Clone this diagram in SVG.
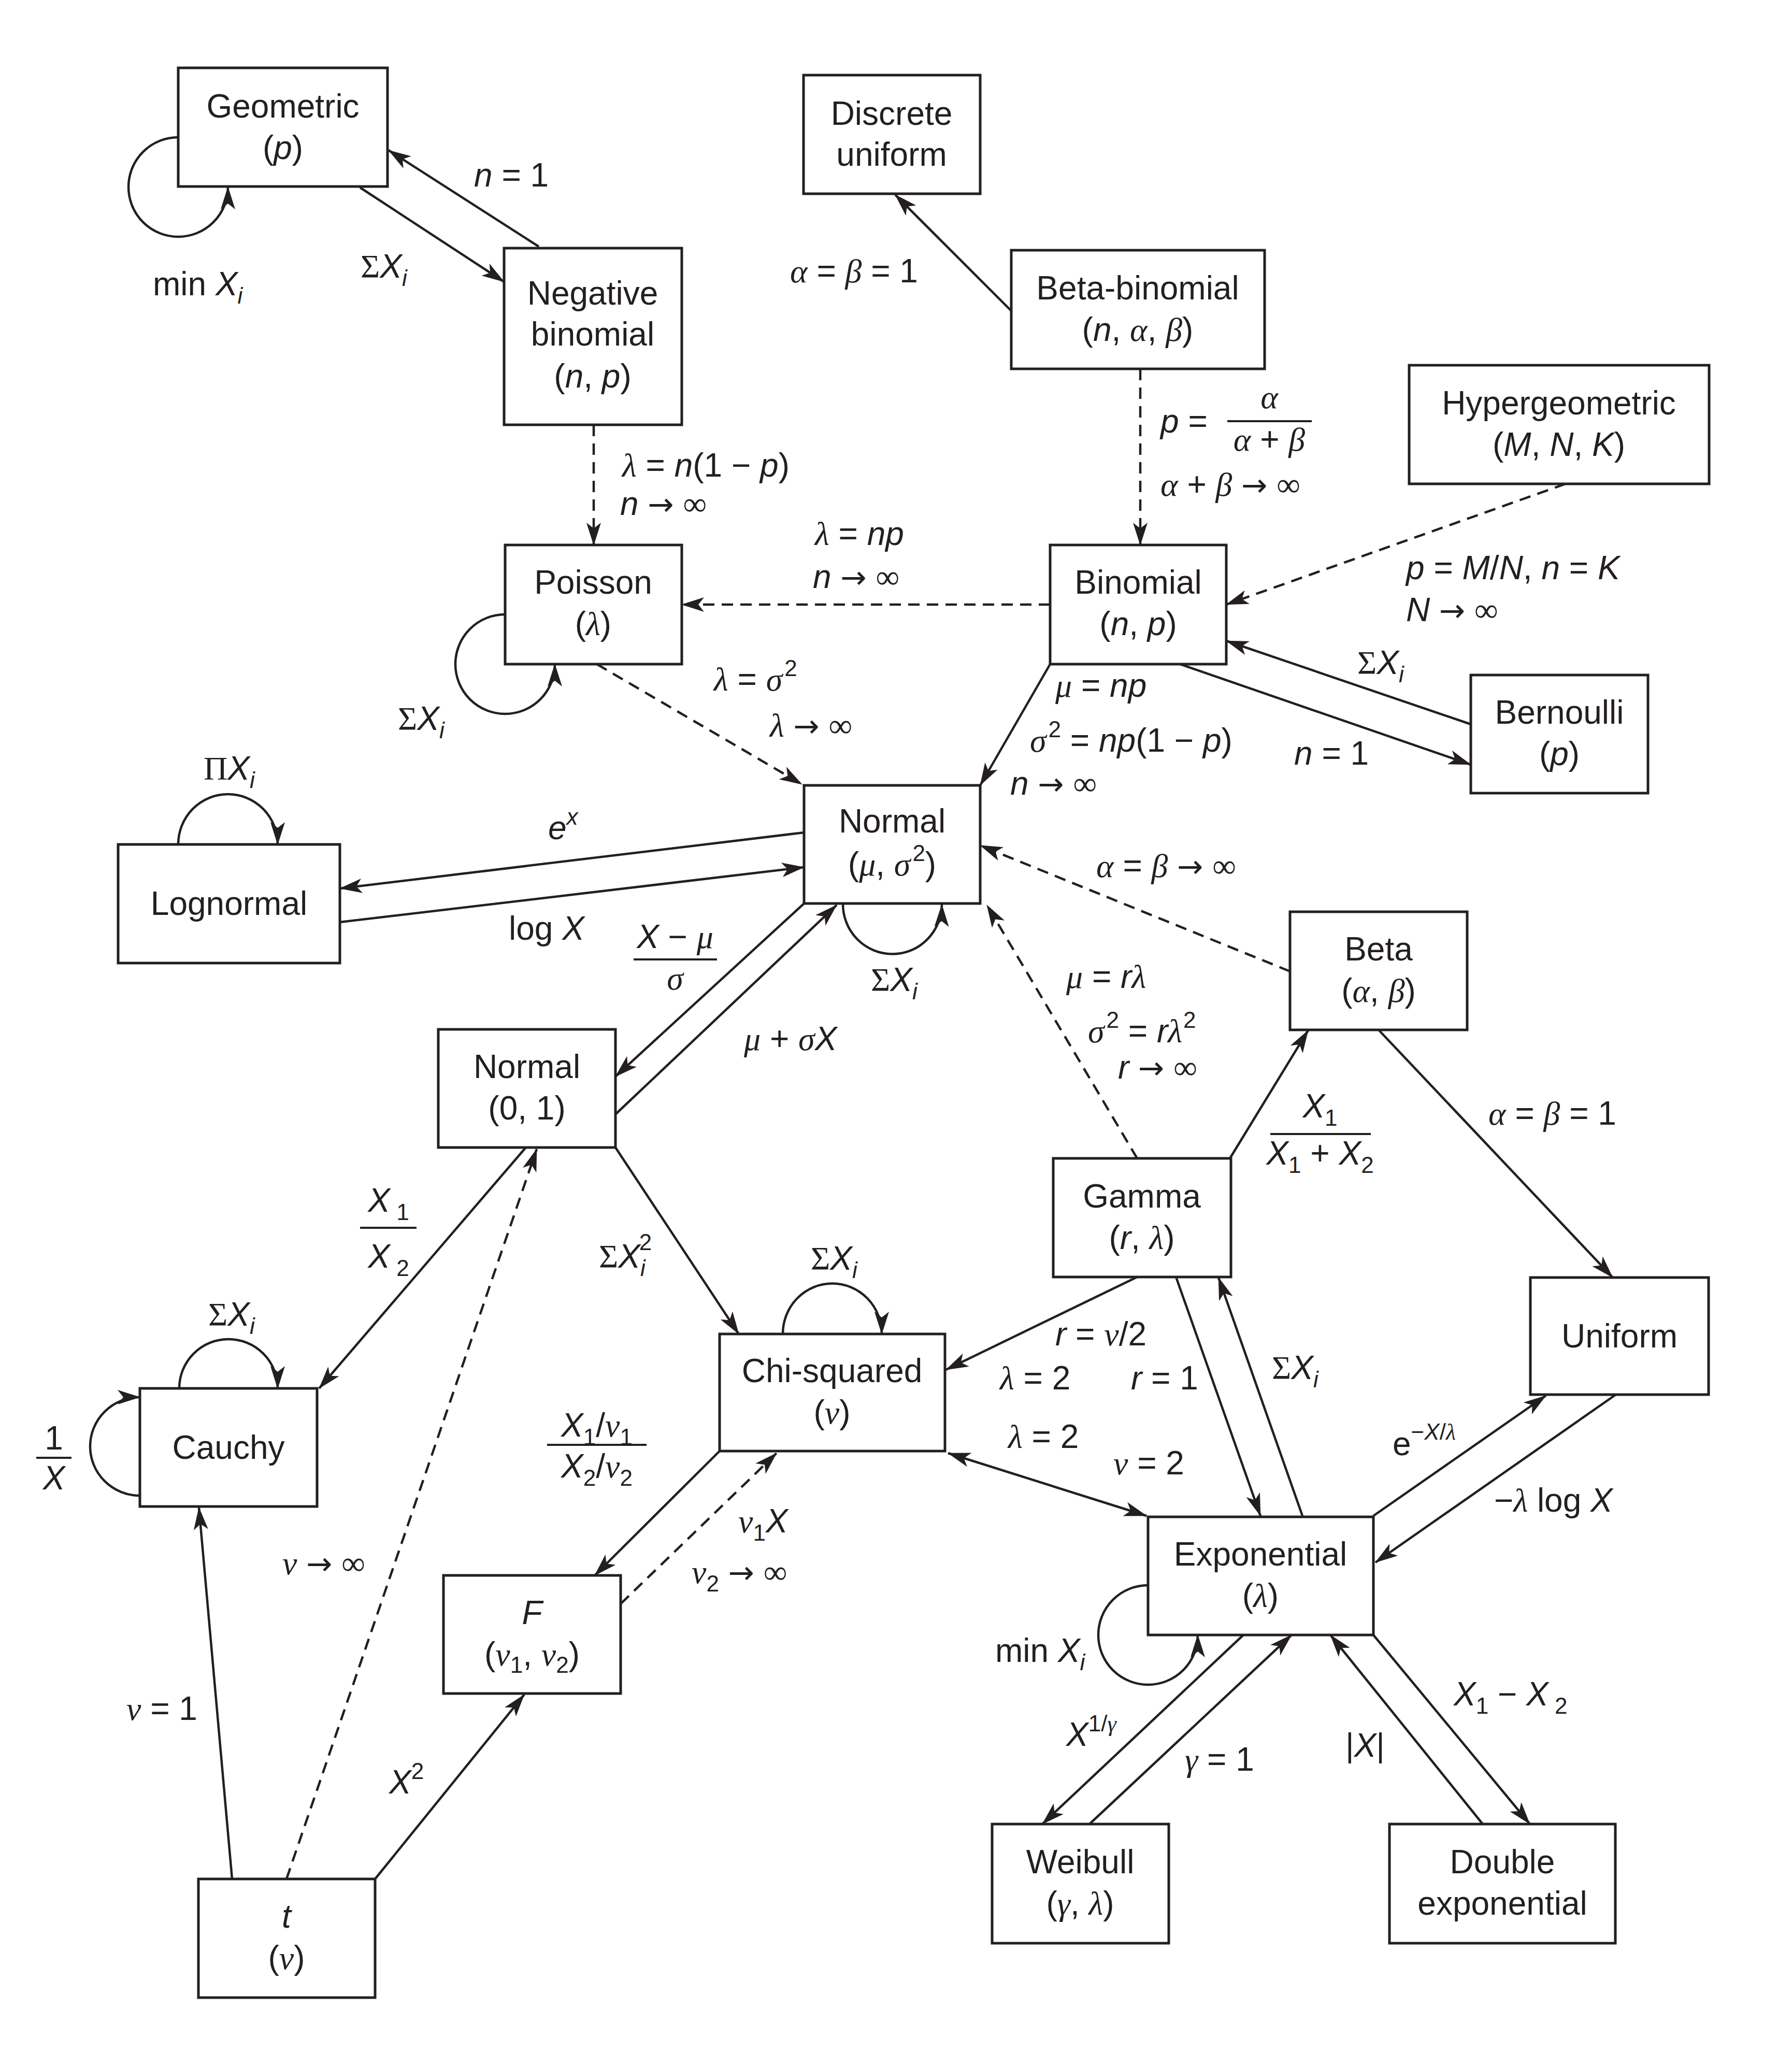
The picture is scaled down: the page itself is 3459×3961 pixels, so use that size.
<svg xmlns="http://www.w3.org/2000/svg" width="3459" height="3961" viewBox="0 0 3459 3961">
<defs>
<style>
text{font-family:"Liberation Sans",Arial,sans-serif;font-size:64px;fill:#231f20}
.m{text-anchor:middle}
.i{font-style:italic}
.g{font-family:"Liberation Serif","Times New Roman",serif;font-style:italic}
.s{font-family:"Liberation Serif","Times New Roman",serif}
.ar{font-family:"DejaVu Sans",sans-serif;font-size:60px}
.sb{font-size:44px}
.box{fill:#fff;stroke:#231f20;stroke-width:5}
.c{fill:none;stroke:#231f20;stroke-width:4.5}
.a{marker-end:url(#ah)}
.d{stroke-dasharray:22 14}
.fr{stroke:#231f20;stroke-width:4}
</style>
<marker id="ah" markerUnits="userSpaceOnUse" viewBox="0 0 44 28" markerWidth="44" markerHeight="28" refX="43" refY="14" orient="auto-start-reverse">
<path d="M0,0 L44,14 L0,28 L11,14 Z" fill="#231f20"/>
</marker>
</defs>
<rect width="3459" height="3961" fill="#fff"/>

<g id="connectors">
<line class="c a" x1="1040" y1="476" x2="750" y2="290"/>
<line class="c a" x1="695" y1="362" x2="973" y2="544"/>
<path class="c a" d="M344,265 A96,96 0 1 0 440,361"/>
<path class="c a" d="M975,1186 A96,96 0 1 0 1071,1282"/>
<path class="c a" d="M2216,3060 A96,96 0 1 0 2312,3156"/>
<path class="c a" d="M1627,1744 A95,96 0 0 0 1818,1746"/>
<path class="c a" d="M344,1630 A96,97 0 0 1 536,1630"/>
<path class="c a" d="M346,2680 A95,95 0 0 1 536,2680"/>
<path class="c a" d="M270,2887 A96,95 0 0 1 270,2697"/>
<path class="c a" d="M1511,2575 A95,97 0 0 1 1702,2575"/>
<line class="c a d" x1="1146" y1="820" x2="1146" y2="1052"/>
<line class="c a" x1="1952" y1="600" x2="1728" y2="376"/>
<line class="c a d" x1="2201" y1="712" x2="2201" y2="1052"/>
<line class="c a d" x1="3022" y1="934" x2="2367" y2="1167"/>
<line class="c a d" x1="2027" y1="1167" x2="1316" y2="1167"/>
<line class="c a d" x1="1152" y1="1282" x2="1548" y2="1514"/>
<line class="c a" x1="2027" y1="1282" x2="1892" y2="1516"/>
<line class="c a" x1="2278" y1="1282" x2="2839" y2="1476"/>
<line class="c a" x1="2839" y1="1398" x2="2367" y2="1237"/>
<line class="c a" x1="1552" y1="1607" x2="656" y2="1715"/>
<line class="c a" x1="656" y1="1780" x2="1552" y2="1674"/>
<line class="c a d" x1="2490" y1="1875" x2="1892" y2="1632"/>
<line class="c a d" x1="2195" y1="2236" x2="1905" y2="1747"/>
<line class="c a" x1="1552" y1="1744" x2="1188" y2="2078"/>
<line class="c a" x1="1188" y1="2151" x2="1615" y2="1747"/>
<line class="c a" x1="1015" y1="2215" x2="616" y2="2680"/>
<line class="c a" x1="1188" y1="2215" x2="1426" y2="2575"/>
<line class="c a d" x1="553" y1="3627" x2="1036" y2="2218"/>
<line class="c a" x1="448" y1="3627" x2="384" y2="2910"/>
<line class="c a" x1="724" y1="3627" x2="1012" y2="3271"/>
<line class="c a" x1="1389" y1="2801" x2="1148" y2="3041"/>
<line class="c a d" x1="1198" y1="3096" x2="1499" y2="2805"/>
<line class="c a" x1="2374" y1="2236" x2="2525" y2="1989"/>
<line class="c a" x1="2662" y1="1989" x2="3113" y2="2466"/>
<line class="c a" x1="2195" y1="2465" x2="1826" y2="2644"/>
<line class="c a" x1="2270" y1="2465" x2="2433" y2="2926"/>
<line class="c a" x1="2514" y1="2926" x2="2352" y2="2466"/>
<line class="c a" x1="1830" y1="2805" x2="2213" y2="2926" marker-start="url(#ah)"/>
<line class="c a" x1="2651" y1="2926" x2="2984" y2="2694"/>
<line class="c a" x1="3119" y1="2692" x2="2655" y2="3016"/>
<line class="c a" x1="2400" y1="3156" x2="2012" y2="3521"/>
<line class="c a" x1="2103" y1="3521" x2="2493" y2="3156"/>
<line class="c a" x1="2862" y1="3521" x2="2568" y2="3156"/>
<line class="c a" x1="2651" y1="3156" x2="2953" y2="3521"/>
</g>

<g id="node-geometric"><rect class="box" x="344" y="131" width="404" height="229"/>
<text class="m" x="546" y="227">Geometric</text><text class="m" x="546" y="307">(<tspan class="i">p</tspan>)</text></g>
<g id="node-discrete-uniform"><rect class="box" x="1551" y="145" width="341" height="229"/>
<text class="m" x="1721" y="241">Discrete</text><text class="m" x="1721" y="320">uniform</text></g>
<g id="node-negative-binomial"><rect class="box" x="973" y="479" width="343" height="341"/>
<text class="m" x="1144" y="588">Negative</text><text class="m" x="1144" y="667">binomial</text><text class="m" x="1144" y="748">(<tspan class="i">n</tspan>, <tspan class="i">p</tspan>)</text></g>
<g id="node-beta-binomial"><rect class="box" x="1952" y="483" width="489" height="229"/>
<text class="m" x="2196" y="578">Beta-binomial</text><text class="m" x="2196" y="658">(<tspan class="i">n</tspan>, <tspan class="g">α</tspan>, <tspan class="g">β</tspan>)</text></g>
<g id="node-hypergeometric"><rect class="box" x="2720" y="705" width="579" height="229"/>
<text class="m" x="3009" y="800">Hypergeometric</text><text class="m" x="3009" y="880">(<tspan class="i">M</tspan>, <tspan class="i">N</tspan>, <tspan class="i">K</tspan>)</text></g>
<g id="node-poisson"><rect class="box" x="975" y="1052" width="341" height="230"/>
<text class="m" x="1145" y="1146">Poisson</text><text class="m" x="1145" y="1226">(<tspan class="g">λ</tspan>)</text></g>
<g id="node-binomial"><rect class="box" x="2027" y="1052" width="340" height="230"/>
<text class="m" x="2197" y="1146">Binomial</text><text class="m" x="2197" y="1226">(<tspan class="i">n</tspan>, <tspan class="i">p</tspan>)</text></g>
<g id="node-bernoulli"><rect class="box" x="2839" y="1303" width="342" height="228"/>
<text class="m" x="3010" y="1397">Bernoulli</text><text class="m" x="3010" y="1477">(<tspan class="i">p</tspan>)</text></g>
<g id="node-normal"><rect class="box" x="1552" y="1516" width="340" height="228"/>
<text class="m" x="1722" y="1607">Normal</text><text class="m" x="1722" y="1690">(<tspan class="g">μ</tspan>, <tspan class="g">σ</tspan><tspan class="sb" dx="4" dy="-28">2</tspan><tspan dy="28">)</tspan></text></g>
<g id="node-lognormal"><rect class="box" x="228" y="1630" width="428" height="229"/>
<text class="m" x="442" y="1766">Lognormal</text></g>
<g id="node-beta"><rect class="box" x="2490" y="1760" width="342" height="228"/>
<text class="m" x="2661" y="1854">Beta</text><text class="m" x="2661" y="1934">(<tspan class="g">α</tspan>, <tspan class="g">β</tspan>)</text></g>
<g id="node-standard-normal"><rect class="box" x="846" y="1987" width="342" height="228"/>
<text class="m" x="1017" y="2081">Normal</text><text class="m" x="1017" y="2161">(0, 1)</text></g>
<g id="node-gamma"><rect class="box" x="2033" y="2236" width="343" height="229"/>
<text class="m" x="2204" y="2331">Gamma</text><text class="m" x="2204" y="2411">(<tspan class="i">r</tspan>, <tspan class="g">λ</tspan>)</text></g>
<g id="node-uniform"><rect class="box" x="2954" y="2466" width="344" height="226"/>
<text class="m" x="3126" y="2601">Uniform</text></g>
<g id="node-chi-squared"><rect class="box" x="1389" y="2575" width="435" height="226"/>
<text class="m" x="1606" y="2668">Chi-squared</text><text class="m" x="1606" y="2748">(<tspan class="g">ν</tspan>)</text></g>
<g id="node-cauchy"><rect class="box" x="270" y="2680" width="342" height="228"/>
<text class="m" x="441" y="2816">Cauchy</text></g>
<g id="node-exponential"><rect class="box" x="2216" y="2928" width="435" height="228"/>
<text class="m" x="2433" y="3022">Exponential</text><text class="m" x="2433" y="3102">(<tspan class="g">λ</tspan>)</text></g>
<g id="node-f"><rect class="box" x="856" y="3041" width="342" height="228"/>
<text class="m" x="1027" y="3135"><tspan class="i">F</tspan></text><text class="m" x="1027" y="3215">(<tspan class="g">ν</tspan><tspan class="sb" dy="14">1</tspan><tspan dy="-14">, </tspan><tspan class="g">ν</tspan><tspan class="sb" dy="14">2</tspan><tspan dy="-14">)</tspan></text></g>
<g id="node-weibull"><rect class="box" x="1915" y="3521" width="341" height="230"/>
<text class="m" x="2085" y="3616">Weibull</text><text class="m" x="2085" y="3696">(<tspan class="g">γ</tspan>, <tspan class="g">λ</tspan>)</text></g>
<g id="node-double-exponential"><rect class="box" x="2682" y="3521" width="436" height="230"/>
<text class="m" x="2900" y="3616">Double</text><text class="m" x="2900" y="3696">exponential</text></g>
<g id="node-t"><rect class="box" x="383" y="3627" width="341" height="229"/>
<text class="m" x="553" y="3721"><tspan class="i">t</tspan></text><text class="m" x="553" y="3801">(<tspan class="g">ν</tspan>)</text></g>

<g id="labels">
<text x="295" y="570">min <tspan class="i">X</tspan><tspan class="i sb" dy="16">i</tspan></text>
<text x="915" y="360"><tspan class="i">n</tspan> = 1</text>
<text x="696" y="536"><tspan class="s">Σ</tspan><tspan class="i">X</tspan><tspan class="i sb" dy="16">i</tspan></text>
<text x="1525" y="545"><tspan class="g">α</tspan> = <tspan class="g">β</tspan> = 1</text>
<text x="1201" y="920"><tspan class="g">λ</tspan> = <tspan class="i">n</tspan>(1 − <tspan class="i">p</tspan>)</text>
<text x="1197" y="994"><tspan class="i">n</tspan> <tspan class="ar">→</tspan> <tspan class="s">∞</tspan></text>
<text x="2240" y="835"><tspan class="i">p</tspan> =</text>
<text class="m" x="2450" y="788"><tspan class="g">α</tspan></text>
<line class="fr" x1="2369" y1="813" x2="2532" y2="813"/>
<text class="m" x="2450" y="870"><tspan class="g">α</tspan> + <tspan class="g">β</tspan></text>
<text x="2240" y="957"><tspan class="g">α</tspan> + <tspan class="g">β</tspan> <tspan class="ar">→</tspan> <tspan class="s">∞</tspan></text>
<text x="1573" y="1052"><tspan class="g">λ</tspan> = <tspan class="i">np</tspan></text>
<text x="1569" y="1135"><tspan class="i">n</tspan> <tspan class="ar">→</tspan> <tspan class="s">∞</tspan></text>
<text x="2714" y="1118"><tspan class="i">p</tspan> = <tspan class="i">M</tspan>/<tspan class="i">N</tspan>, <tspan class="i">n</tspan> = <tspan class="i">K</tspan></text>
<text x="2714" y="1199"><tspan class="i">N</tspan> <tspan class="ar">→</tspan> <tspan class="s">∞</tspan></text>
<text x="2620" y="1301"><tspan class="s">Σ</tspan><tspan class="i">X</tspan><tspan class="i sb" dy="16">i</tspan></text>
<text x="2498" y="1476"><tspan class="i">n</tspan> = 1</text>
<text x="768" y="1409"><tspan class="s">Σ</tspan><tspan class="i">X</tspan><tspan class="i sb" dy="16">i</tspan></text>
<text x="1378" y="1333"><tspan class="g">λ</tspan> = <tspan class="g">σ</tspan><tspan class="sb" dx="4" dy="-28">2</tspan></text>
<text x="1486" y="1422"><tspan class="g">λ</tspan> <tspan class="ar">→</tspan> <tspan class="s">∞</tspan></text>
<text x="2037" y="1345"><tspan class="g">μ</tspan> = <tspan class="i">np</tspan></text>
<text x="1988" y="1451"><tspan class="g">σ</tspan><tspan class="sb" dx="4" dy="-28">2</tspan><tspan dy="28"> = </tspan><tspan class="i">np</tspan>(1 − <tspan class="i">p</tspan>)</text>
<text x="1950" y="1534"><tspan class="i">n</tspan> <tspan class="ar">→</tspan> <tspan class="s">∞</tspan></text>
<text x="393" y="1505"><tspan class="s">Π</tspan><tspan class="i">X</tspan><tspan class="i sb" dy="16">i</tspan></text>
<text x="1058" y="1620"><tspan class="i">e</tspan><tspan class="i sb" dy="-28">x</tspan></text>
<text x="982" y="1814">log <tspan class="i">X</tspan></text>
<text class="m" x="1303" y="1830"><tspan class="i">X</tspan> − <tspan class="g">μ</tspan></text>
<line class="fr" x1="1223" y1="1852" x2="1384" y2="1852"/>
<text class="m" x="1303" y="1910"><tspan class="g">σ</tspan></text>
<text x="1681" y="1913"><tspan class="s">Σ</tspan><tspan class="i">X</tspan><tspan class="i sb" dy="16">i</tspan></text>
<text x="2116" y="1693"><tspan class="g">α</tspan> = <tspan class="g">β</tspan> <tspan class="ar">→</tspan> <tspan class="s">∞</tspan></text>
<text x="2058" y="1907"><tspan class="g">μ</tspan> = <tspan class="i">r</tspan><tspan class="g">λ</tspan></text>
<text x="2100" y="2012"><tspan class="g">σ</tspan><tspan class="sb" dx="4" dy="-28">2</tspan><tspan dy="28"> = </tspan><tspan class="i">r</tspan><tspan class="g">λ</tspan><tspan class="sb" dx="2" dy="-28">2</tspan></text>
<text x="2158" y="2082"><tspan class="i">r</tspan> <tspan class="ar">→</tspan> <tspan class="s">∞</tspan></text>
<text x="1436" y="2027"><tspan class="g">μ</tspan> + <tspan class="g">σ</tspan><tspan class="i">X</tspan></text>
<text class="m" x="750" y="2339"><tspan class="i">X</tspan><tspan class="sb" dy="16"> 1</tspan></text>
<line class="fr" x1="695" y1="2370" x2="804" y2="2370"/>
<text class="m" x="750" y="2447"><tspan class="i">X</tspan><tspan class="sb" dy="16"> 2</tspan></text>
<text x="1156" y="2447"><tspan class="s">Σ</tspan><tspan class="i">X</tspan><tspan class="i sb" dy="16">i</tspan><tspan class="sb" dx="-12" dy="-50">2</tspan></text>
<text class="m" x="2548" y="2157"><tspan class="i">X</tspan><tspan class="sb" dy="16">1</tspan></text>
<line class="fr" x1="2452" y1="2189" x2="2646" y2="2189"/>
<text class="m" x="2548" y="2248"><tspan class="i">X</tspan><tspan class="sb" dy="16">1</tspan><tspan dy="-16"> + </tspan><tspan class="i">X</tspan><tspan class="sb" dy="16">2</tspan></text>
<text x="2873" y="2171"><tspan class="g">α</tspan> = <tspan class="g">β</tspan> = 1</text>
<text x="402" y="2559"><tspan class="s">Σ</tspan><tspan class="i">X</tspan><tspan class="i sb" dy="16">i</tspan></text>
<text class="m" x="104" y="2798">1</text>
<line class="fr" x1="70" y1="2814" x2="138" y2="2814"/>
<text class="m" x="104" y="2875"><tspan class="i">X</tspan></text>
<text x="1565" y="2451"><tspan class="s">Σ</tspan><tspan class="i">X</tspan><tspan class="i sb" dy="16">i</tspan></text>
<text x="2037" y="2597"><tspan class="i">r</tspan> = <tspan class="g">ν</tspan>/2</text>
<text x="1930" y="2682"><tspan class="g">λ</tspan> = 2</text>
<text x="2183" y="2682"><tspan class="i">r</tspan> = 1</text>
<text x="2455" y="2662"><tspan class="s">Σ</tspan><tspan class="i">X</tspan><tspan class="i sb" dy="16">i</tspan></text>
<text class="m" x="1152" y="2773"><tspan class="i">X</tspan><tspan class="sb" dy="16">1</tspan><tspan dy="-16">/</tspan><tspan class="g">ν</tspan><tspan class="sb" dy="16">1</tspan></text>
<line class="fr" x1="1056" y1="2789" x2="1248" y2="2789"/>
<text class="m" x="1152" y="2852"><tspan class="i">X</tspan><tspan class="sb" dy="16">2</tspan><tspan dy="-16">/</tspan><tspan class="g">ν</tspan><tspan class="sb" dy="16">2</tspan></text>
<text x="1946" y="2795"><tspan class="g">λ</tspan> = 2</text>
<text x="2149" y="2846"><tspan class="g">ν</tspan> = 2</text>
<text x="2688" y="2809">e<tspan class="sb" dy="-30">−</tspan><tspan class="i sb">X</tspan><tspan class="sb">/</tspan><tspan class="g sb">λ</tspan></text>
<text x="2884" y="2918">−<tspan class="g">λ</tspan> log <tspan class="i">X</tspan></text>
<text x="1425" y="2958"><tspan class="g">ν</tspan><tspan class="sb" dy="16">1</tspan><tspan class="i" dy="-16">X</tspan></text>
<text x="545" y="3039"><tspan class="g">ν</tspan> <tspan class="ar">→</tspan> <tspan class="s">∞</tspan></text>
<text x="1335" y="3056"><tspan class="g">ν</tspan><tspan class="sb" dy="16">2</tspan><tspan dy="-16"> </tspan><tspan class="ar">→</tspan> <tspan class="s">∞</tspan></text>
<text x="1921" y="3208">min <tspan class="i">X</tspan><tspan class="i sb" dy="16">i</tspan></text>
<text x="2806" y="3292"><tspan class="i">X</tspan><tspan class="sb" dy="16">1</tspan><tspan dy="-16"> − </tspan><tspan class="i">X</tspan><tspan class="sb" dy="16"> 2</tspan></text>
<text x="244" y="3320"><tspan class="g">ν</tspan> = 1</text>
<text x="2058" y="3370"><tspan class="i">X</tspan><tspan class="sb" dy="-28">1/</tspan><tspan class="g sb">γ</tspan></text>
<text x="2597" y="3391">|<tspan class="i">X</tspan>|</text>
<text x="2287" y="3418"><tspan class="g">γ</tspan> = 1</text>
<text x="751" y="3462"><tspan class="i">X</tspan><tspan class="sb" dy="-28">2</tspan></text>
</g>
</svg>
